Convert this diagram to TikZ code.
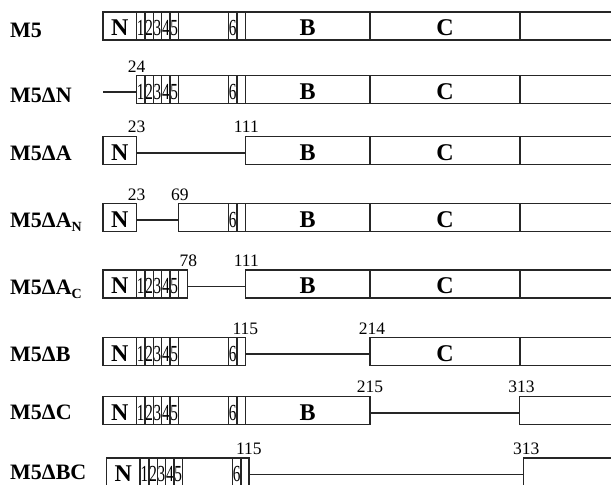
\documentclass[tikz,border=0pt]{standalone}
\usepackage{fontspec}
\setmainfont{Liberation Serif}
\usepackage{graphicx}
\newcommand\sg[5]{\pgfmathsetmacro\segw{(#3)-(#2)}\node[seg, minimum width=\segw pt] (#1) at ({#2},{#4}) {#5};}
\newcommand\dg[1]{\scalebox{0.66}[1]{\mdseries\fontsize{23}{23}\selectfont #1}}
\newcommand\subN[1]{\raisebox{-3.5pt}{\fontsize{14}{14}\selectfont #1}}
\tikzset{
  seg/.style={draw=black!85, line width=1.5pt, rectangle, inner sep=0pt, outer sep=0pt,
    minimum height=28pt, anchor=north west, font=\bfseries\fontsize{24}{24}\selectfont,
    text height=19.5pt, text depth=0pt},
  conn/.style={draw=black!85, line width=1.5pt},
  rowlab/.style={anchor=base west, inner sep=0pt, font=\bfseries\fontsize{22}{22}\selectfont},
  numlab/.style={anchor=base, inner sep=0pt, font=\fontsize{17.5}{17.5}\selectfont}
}
\begin{document}
\begin{tikzpicture}[x=1pt, y=-1pt]
\useasboundingbox (0,0) rectangle (611,485);
% ---------- Row 1: M5
\node[rowlab] (L1) at (10,37.5) {M5};
\sg{a0}{103}{136.5}{12}{N}
\foreach \i/\xa/\xb in {1/136.5/145, 2/145/153.3, 3/153.3/161.7, 4/161.7/170, 5/170/178.3}
  {\sg{a\i}{\xa}{\xb}{12}{\dg{\i}}}
\sg{a6}{178.3}{228.5}{12}{}
\sg{a7}{228.5}{237}{12}{\dg{6}}
\sg{a8}{237}{245.3}{12}{}
\sg{a9}{245.3}{370}{12}{B}
\sg{a10}{370}{520}{12}{C}
\sg{a11}{520}{615}{12}{}
% ---------- Row 2: M5dN
\node[rowlab] (L2) at (10,102) {M5ΔN};
\coordinate (b0) at (103,89.7);
\foreach \i/\xa/\xb in {1/136.5/145, 2/145/153.3, 3/153.3/161.7, 4/161.7/170, 5/170/178.3}
  {\sg{b\i}{\xa}{\xb}{75.7}{\dg{\i}}}
\sg{b6}{178.3}{228.5}{75.7}{}
\sg{b7}{228.5}{237}{75.7}{\dg{6}}
\sg{b8}{237}{245.3}{75.7}{}
\sg{b9}{245.3}{370}{75.7}{B}
\sg{b10}{370}{520}{75.7}{C}
\sg{b11}{520}{615}{75.7}{}
\draw[conn] ([yshift=-2.5pt]b0) -- ([yshift=-2.5pt]b1.west);
\node[numlab] (n24) at ([yshift=3.5pt]b1.north west) {24};
% ---------- Row 3: M5dA
\node[rowlab] (L3) at (10,160.5) {M5ΔA};
\sg{c0}{103}{136.5}{136.7}{N}
\sg{c9}{245.3}{370}{136.7}{B}
\sg{c10}{370}{520}{136.7}{C}
\sg{c11}{520}{615}{136.7}{}
\draw[conn] ([yshift=-2.5pt]c0.east) -- ([yshift=-2.5pt]c9.west);
\node[numlab] (n23a) at ([yshift=4pt]c0.north east) {23};
\node[numlab] (n111a) at ([xshift=1pt,yshift=4pt]c9.north west) {111};
% ---------- Row 4: M5dA_N
\node[rowlab] (L4) at (10,227.5) {M5ΔA\subN{N}};
\sg{d0}{103}{136.5}{203.5}{N}
\sg{d6}{178.3}{228.5}{203.5}{}
\sg{d7}{228.5}{237}{203.5}{\dg{6}}
\sg{d8}{237}{245.3}{203.5}{}
\sg{d9}{245.3}{370}{203.5}{B}
\sg{d10}{370}{520}{203.5}{C}
\sg{d11}{520}{615}{203.5}{}
\draw[conn] ([yshift=-2.5pt]d0.east) -- ([yshift=-2.5pt]d6.west);
\node[numlab] (n23b) at ([yshift=3.5pt]d0.north east) {23};
\node[numlab] (n69) at ([xshift=1.5pt,yshift=3.5pt]d6.north west) {69};
% ---------- Row 5: M5dA_C
\node[rowlab] (L5) at (10,294.5) {M5ΔA\subN{C}};
\sg{e0}{103}{136.5}{270}{N}
\foreach \i/\xa/\xb in {1/136.5/145, 2/145/153.3, 3/153.3/161.7, 4/161.7/170, 5/170/178.3}
  {\sg{e\i}{\xa}{\xb}{270}{\dg{\i}}}
\sg{e6}{178.3}{187.3}{270}{}
\sg{e9}{245.3}{370}{270}{B}
\sg{e10}{370}{520}{270}{C}
\sg{e11}{520}{615}{270}{}
\draw[conn] ([yshift=-2.5pt]e6.east) -- ([yshift=-2.5pt]e9.west);
\node[numlab] (n78) at ([xshift=1pt,yshift=3.5pt]e6.north east) {78};
\node[numlab] (n111b) at ([xshift=1pt,yshift=3.5pt]e9.north west) {111};
% ---------- Row 6: M5dB
\node[rowlab] (L6) at (10,361) {M5ΔB};
\sg{f0}{103}{136.5}{337.5}{N}
\foreach \i/\xa/\xb in {1/136.5/145, 2/145/153.3, 3/153.3/161.7, 4/161.7/170, 5/170/178.3}
  {\sg{f\i}{\xa}{\xb}{337.5}{\dg{\i}}}
\sg{f6}{178.3}{228.5}{337.5}{}
\sg{f7}{228.5}{237}{337.5}{\dg{6}}
\sg{f8}{237}{245.3}{337.5}{}
\sg{f10}{370}{520}{337.5}{C}
\sg{f11}{520}{615}{337.5}{}
\draw[conn] ([yshift=-2.5pt]f8.east) -- ([yshift=-2.5pt]f10.west);
\node[numlab] (n115a) at ([yshift=3.5pt]f8.north east) {115};
\node[numlab] (n214) at ([xshift=2pt,yshift=3.5pt]f10.north west) {214};
% ---------- Row 7: M5dC
\node[rowlab] (L7) at (10,419.5) {M5ΔC};
\sg{g0}{103}{136.5}{396.3}{N}
\foreach \i/\xa/\xb in {1/136.5/145, 2/145/153.3, 3/153.3/161.7, 4/161.7/170, 5/170/178.3}
  {\sg{g\i}{\xa}{\xb}{396.3}{\dg{\i}}}
\sg{g6}{178.3}{228.5}{396.3}{}
\sg{g7}{228.5}{237}{396.3}{\dg{6}}
\sg{g8}{237}{245.3}{396.3}{}
\sg{g9}{245.3}{370}{396.3}{B}
\sg{g11}{519.5}{615}{396.3}{}
\draw[conn] ([yshift=-2.5pt]g9.east) -- ([yshift=-2.5pt]g11.west);
\node[numlab] (n215) at ([yshift=3.5pt]g9.north east) {215};
\node[numlab] (n313a) at ([xshift=2pt,yshift=3.5pt]g11.north west) {313};
% ---------- Row 8: M5dBC
\node[rowlab] (L8) at (10,479.5) {M5ΔBC};
\sg{h0}{106.5}{140}{458}{N}
\foreach \i/\xa/\xb in {1/140/149, 2/149/157.3, 3/157.3/165.7, 4/165.7/174, 5/174/182.3}
  {\sg{h\i}{\xa}{\xb}{458}{\dg{\i}}}
\sg{h6}{182.3}{232.3}{458}{}
\sg{h7}{232.3}{240.8}{458}{\dg{6}}
\sg{h8}{240.8}{248.8}{458}{}
\sg{h11}{523.3}{615}{458}{}
\draw[conn] ([yshift=-2.5pt]h8.east) -- ([yshift=-2.5pt]h11.west);
\node[numlab] (n115b) at ([yshift=3.5pt]h8.north east) {115};
\node[numlab] (n313b) at ([xshift=3pt,yshift=3.5pt]h11.north west) {313};
\end{tikzpicture}
\end{document}
